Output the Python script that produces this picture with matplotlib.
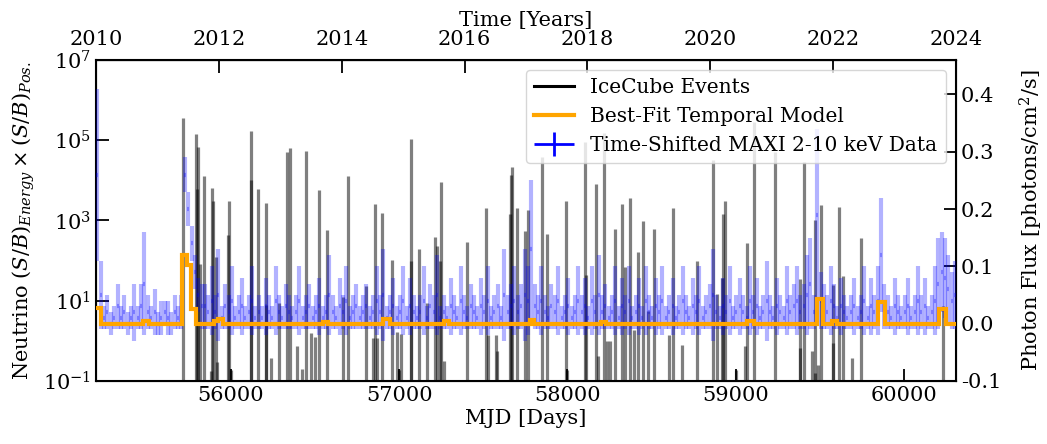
import numpy as np
import matplotlib
matplotlib.use("Agg")
import matplotlib.pyplot as plt
from matplotlib.lines import Line2D
from matplotlib.legend_handler import HandlerErrorbar
from matplotlib.container import ErrorbarContainer

plt.rcParams["font.family"] = "DejaVu Serif"
plt.rcParams["mathtext.fontset"] = "dejavuserif"
plt.rcParams["font.size"] = 15

# IceCube neutrino events: arrival time (MJD) and log10 of the signal-over-background weight
event_mjd = [
    55712, 55790, 55802, 55798, 55817, 55842, 55881, 55888, 55890, 55910,
    55919, 55980, 55989, 55999, 56118, 56120, 56160, 56208, 56209, 56240,
    56283, 56334, 56352, 56390, 56423, 56447, 56478, 56501, 56522, 56568,
    56664, 56697, 56800, 56845, 56856, 56866, 56899, 56958, 56988, 56998,
    57008, 57071, 57072, 57119, 57166, 57212, 57226, 57246, 57245, 57266,
    57403, 57514, 57527, 57575, 57583, 57668, 57667, 57658, 57698, 57745,
    57765, 57850, 57876, 57993, 57999, 58107, 58108, 58172, 58181, 58219,
    58235, 58251, 58284, 58326, 58340, 58371, 58395, 58419, 58449, 58479,
    58514, 58603, 58630, 58682, 58773, 58863, 58887, 58918, 58926, 58936,
    59002, 59053, 59065, 59107, 59235, 59380, 59385, 59404, 59453, 59473,
    59475, 59492, 59507, 59578, 59582, 59612, 59640, 59690, 59745, 60231,
]
event_log_sb = [
    5.55, 5.16, 4.84, 3.79, 1.92, 4.11, -0.75, 3.80, 3.48, 2.09,
    -0.53, 2.65, 3.48, -0.72, 5.23, 4.01, 3.79, 3.43, 0.90, -0.43,
    0.95, 4.71, 4.81, -0.13, -0.70, 4.74, 0.20, 0.10, 3.75, 2.76,
    1.09, 4.10, 1.36, 0.07, 3.41, 0.07, 3.19, 2.02, 0.22, -0.72,
    0.17, 5.03, 2.00, 2.30, 0.95, 2.59, 2.36, 3.95, 2.00, -0.51,
    2.46, 3.30, 0.14, 0.14, -0.26, 4.34, 4.14, 3.16, 3.31, 2.75,
    3.26, 4.59, 2.67, 3.48, -0.72, 4.96, 1.65, 3.91, -0.38, 5.17,
    -0.01, -0.01, 2.79, 3.40, 1.84, 3.55, 0.28, 2.22, 2.98, 0.74,
    2.78, 0.15, 3.30, -0.10, 1.98, 4.51, 1.17, 1.57, 3.16, 3.48,
    -0.72, -0.13, 2.45, 5.46, 4.71, 1.55, -0.19, 4.46, -0.26, 3.01,
    -0.80, -0.59, 3.39, 1.38, -0.06, 3.33, 1.62, -0.43, 2.57, 0.86,
]

# MAXI 2-10 keV light curve (time-shifted), 20-day bins
maxi_mjd = np.arange(55205, 60310, 20)
maxi_flux = [
    0.26, 0.05, 0.01, 0.02, 0.00, 0.01, 0.03, 0.01, 0.02, 0.00, 0.01, 0.02, 0.01, 0.03, 0.07, 0.02,
    0.01, 0.02, 0.00, 0.01, 0.02, 0.01, 0.00, 0.02, 0.01, 0.02, 0.26, 0.20, 0.14, 0.09, 0.05, 0.03,
    0.03, 0.02, 0.04, 0.02, 0.05, 0.01, 0.03, 0.02, 0.04, 0.01, 0.02, 0.03, 0.01, 0.02, 0.04, 0.01,
    0.02, 0.01, 0.03, 0.02, 0.01, 0.04, 0.02, 0.01, 0.03, 0.02, 0.01, 0.02, 0.04, 0.01, 0.02, 0.03,
    0.01, 0.02, 0.03, 0.01, 0.02, 0.05, 0.02, 0.01, 0.03, 0.02, 0.04, 0.01, 0.02, 0.03, 0.01, 0.02,
    0.03, 0.01, 0.02, 0.04, 0.02, 0.05, 0.01, 0.02, 0.03, 0.01, 0.02, 0.04, 0.01, 0.03, 0.02, 0.01,
    0.02, 0.04, 0.01, 0.03, 0.02, 0.05, 0.01, 0.02, 0.01, 0.03, 0.02, 0.01, 0.04, 0.02, 0.01, 0.03,
    0.02, 0.01, 0.03, 0.02, 0.04, 0.01, 0.02, 0.03, 0.01, 0.05, 0.02, 0.03, 0.04, 0.02, 0.03, 0.05,
    0.04, 0.13, 0.03, 0.02, 0.04, 0.02, 0.01, 0.03, 0.02, 0.04, 0.01, 0.02, 0.03, 0.01, 0.02, 0.04,
    0.02, 0.03, 0.01, 0.04, 0.02, 0.05, 0.02, 0.03, 0.01, 0.02, 0.04, 0.01, 0.03, 0.02, 0.04, 0.01,
    0.02, 0.03, 0.01, 0.04, 0.02, 0.01, 0.03, 0.02, 0.04, 0.01, 0.02, 0.03, 0.01, 0.02, 0.04, 0.02,
    0.01, 0.03, 0.02, 0.04, 0.01, 0.02, 0.03, 0.05, 0.02, 0.01, 0.03, 0.02, 0.04, 0.01, 0.02, 0.03,
    0.02, 0.01, 0.04, 0.02, 0.03, 0.01, 0.02, 0.04, 0.02, 0.01, 0.03, 0.02, 0.01, 0.04, 0.02, 0.03,
    0.04, 0.02, 0.03, 0.05, 0.07, 0.02, 0.19, 0.04, 0.03, 0.02, 0.04, 0.03, 0.01, 0.03, 0.02, 0.01,
    0.02, 0.03, 0.01, 0.02, 0.04, 0.01, 0.03, 0.02, 0.04, 0.12, 0.03, 0.02, 0.01, 0.03, 0.02, 0.01,
    0.02, 0.03, 0.01, 0.02, 0.04, 0.02, 0.03, 0.01, 0.02, 0.04, 0.07, 0.09, 0.08, 0.06, 0.04, 0.05,
]
maxi_err = [
    0.15, 0.06, 0.02, 0.03, 0.02, 0.02, 0.04, 0.02, 0.03, 0.02, 0.02, 0.05, 0.02, 0.04, 0.09, 0.03,
    0.02, 0.04, 0.02, 0.03, 0.02, 0.03, 0.02, 0.03, 0.02, 0.03, 0.03, 0.03, 0.03, 0.03, 0.03, 0.04,
    0.04, 0.03, 0.06, 0.03, 0.08, 0.02, 0.04, 0.03, 0.06, 0.02, 0.03, 0.05, 0.02, 0.03, 0.06, 0.02,
    0.03, 0.02, 0.05, 0.03, 0.02, 0.06, 0.03, 0.02, 0.04, 0.03, 0.02, 0.03, 0.06, 0.02, 0.03, 0.04,
    0.02, 0.03, 0.05, 0.02, 0.03, 0.07, 0.03, 0.02, 0.05, 0.03, 0.06, 0.02, 0.03, 0.04, 0.02, 0.03,
    0.04, 0.02, 0.03, 0.06, 0.03, 0.08, 0.02, 0.03, 0.05, 0.02, 0.03, 0.06, 0.02, 0.05, 0.03, 0.02,
    0.03, 0.06, 0.02, 0.04, 0.03, 0.07, 0.02, 0.03, 0.02, 0.05, 0.03, 0.02, 0.06, 0.03, 0.02, 0.04,
    0.03, 0.02, 0.05, 0.03, 0.06, 0.02, 0.03, 0.04, 0.02, 0.08, 0.03, 0.04, 0.06, 0.03, 0.04, 0.08,
    0.06, 0.12, 0.04, 0.03, 0.06, 0.03, 0.02, 0.04, 0.03, 0.06, 0.02, 0.03, 0.05, 0.02, 0.03, 0.06,
    0.03, 0.05, 0.02, 0.06, 0.03, 0.07, 0.03, 0.04, 0.02, 0.03, 0.06, 0.02, 0.05, 0.03, 0.06, 0.02,
    0.03, 0.05, 0.02, 0.06, 0.03, 0.02, 0.05, 0.03, 0.06, 0.02, 0.03, 0.05, 0.02, 0.03, 0.06, 0.03,
    0.02, 0.05, 0.03, 0.06, 0.02, 0.03, 0.04, 0.08, 0.03, 0.02, 0.05, 0.03, 0.06, 0.02, 0.03, 0.05,
    0.03, 0.02, 0.06, 0.03, 0.05, 0.02, 0.03, 0.07, 0.03, 0.02, 0.05, 0.03, 0.02, 0.06, 0.03, 0.04,
    0.06, 0.03, 0.04, 0.07, 0.08, 0.03, 0.15, 0.05, 0.04, 0.03, 0.06, 0.04, 0.02, 0.05, 0.03, 0.02,
    0.03, 0.05, 0.02, 0.03, 0.06, 0.02, 0.05, 0.03, 0.06, 0.10, 0.04, 0.03, 0.02, 0.05, 0.03, 0.02,
    0.03, 0.05, 0.02, 0.03, 0.06, 0.03, 0.05, 0.02, 0.03, 0.06, 0.08, 0.07, 0.07, 0.06, 0.05, 0.06,
]

# Best-fit temporal model: piecewise-constant flux, step edges (MJD) and level in each step
model_edges = [
    55197, 55228, 55478, 55512, 55708, 55738, 55764, 55793, 55900, 55922, 55952,
    56548, 56578, 56903, 56945, 57266, 57296, 57780, 57800, 58200, 58230,
    59067, 59108, 59482, 59521, 59576, 59600, 59848, 59888, 60210, 60250, 60310.5,
]
model_flux = [
    0.028, 0.0, 0.004, 0.0, 0.119, 0.102, 0.025, 0.0, 0.004, 0.009,
    0.0, 0.003, 0.0, 0.008, 0.0, 0.005, 0.0, 0.006, 0.0, 0.003,
    0.0, 0.004, 0.0, 0.043, 0.0, 0.004, 0.0, 0.038, 0.0, 0.025, 0.0,
]

year_ticks = [2010, 2012, 2014, 2016, 2018, 2020, 2022, 2024]
mjd_ticks = [56000, 57000, 58000, 59000, 60000]
flux_ticks = [-0.1, 0.0, 0.1, 0.2, 0.3, 0.4]

MJD_2010 = 55197.0


def mjd_to_year(m):
    return 2010.0 + (np.asarray(m) - MJD_2010) / 365.25


def year_to_mjd(y):
    return MJD_2010 + (np.asarray(y) - 2010.0) * 365.25


fig = plt.figure(figsize=(10.47, 4.44), dpi=100)
ax = fig.add_axes([0.0917, 0.1419, 0.8214, 0.7230])

tick_kw = dict(direction="in", length=9, width=1.3, labelsize=15)

# neutrino events on the logarithmic axis
ax.vlines(event_mjd, 1e-1, np.power(10.0, event_log_sb), color="black",
          alpha=0.5, lw=2.3, zorder=2)
ax.set_yscale("log")
ax.set_ylim(1e-1, 1e7)
ax.set_xlim(MJD_2010, year_to_mjd(2024))
ax.set_yticks([1e-1, 1e1, 1e3, 1e5, 1e7])
ax.yaxis.set_minor_locator(matplotlib.ticker.NullLocator())
ax.set_xticks(mjd_ticks)
ax.tick_params(axis="both", which="major", **tick_kw)
ax.set_xlabel("MJD [Days]", fontsize=15, labelpad=3)
ax.set_ylabel(r"Neutrino $(S/B)_{Energy}\times(S/B)_{Pos.}$", fontsize=15)
for s in ax.spines.values():
    s.set_linewidth(1.5)

# X-ray light curve and temporal model on the linear flux axis
ax2 = ax.twinx()
ax2.errorbar(maxi_mjd, maxi_flux, yerr=maxi_err, xerr=6, fmt="none",
             ecolor="blue", elinewidth=3.0, alpha=0.3, zorder=3)
ax2.stairs(model_flux, model_edges, baseline=None, color="orange", lw=3, zorder=4)
ax2.set_ylim(-0.1, 0.46)
ax2.set_yticks(flux_ticks)
ax2.set_yticklabels([f"{v:.1f}" for v in flux_ticks])
ax2.tick_params(axis="y", which="major", **tick_kw)
ax2.set_ylabel(r"Photon Flux [photons/cm$^2$/s]", fontsize=15, labelpad=12)

# calendar years along the top
secx = ax.secondary_xaxis("top", functions=(mjd_to_year, year_to_mjd))
secx.set_xticks(year_ticks)
secx.xaxis.set_major_formatter(matplotlib.ticker.FormatStrFormatter("%d"))
secx.tick_params(axis="x", which="major", pad=8, **tick_kw)
secx.xaxis.set_minor_locator(matplotlib.ticker.NullLocator())
secx.set_xlabel("Time [Years]", fontsize=15, labelpad=3)

maxi_handle = ax2.errorbar([np.nan], [np.nan], xerr=[1], yerr=[1], fmt="none",
                           ecolor="blue", elinewidth=2)
handles = [
    Line2D([], [], color="black", lw=2.2),
    Line2D([], [], color="orange", lw=3),
    maxi_handle,
]
labels = ["IceCube Events", "Best-Fit Temporal Model",
          "Time-Shifted MAXI 2-10 keV Data"]
ax2.legend(handles, labels, loc="upper left", bbox_to_anchor=(0.500, 0.970),
           borderaxespad=0, fontsize=14.5, handlelength=2.0, framealpha=0.8,
           handler_map={ErrorbarContainer: HandlerErrorbar(xerr_size=1.0, yerr_size=0.6)})

fig.savefig("out.png", dpi=100)
